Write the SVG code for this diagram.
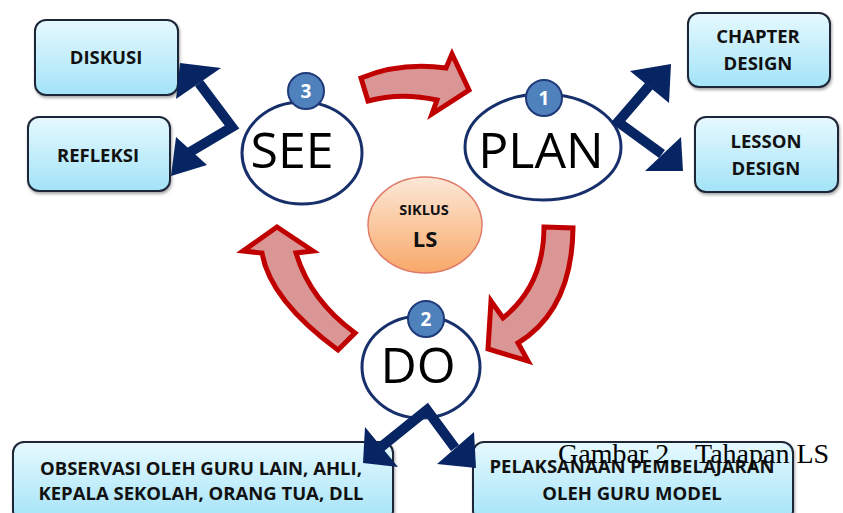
<svg xmlns="http://www.w3.org/2000/svg" width="843" height="513" viewBox="0 0 843 513">
<defs>
<linearGradient id="boxg" x1="0" y1="0" x2="0" y2="1">
<stop offset="0" stop-color="#e6f9fe"/>
<stop offset="1" stop-color="#a3e3f8"/>
</linearGradient>
<linearGradient id="lsg" x1="0" y1="0" x2="0" y2="1">
<stop offset="0" stop-color="#fde8d8"/>
<stop offset="1" stop-color="#f8a868"/>
</linearGradient>
<filter id="sh" x="-10%" y="-10%" width="120%" height="130%">
<feDropShadow dx="1" dy="2" stdDeviation="1.5" flood-color="#000" flood-opacity="0.35"/>
</filter>
</defs>
<style>
.box{fill:url(#boxg);stroke:#1e2838;stroke-width:2;filter:url(#sh)}
.bt{font-family:"Open Sans","Liberation Sans",sans-serif;font-weight:bold;font-size:18.5px;fill:#111;text-anchor:middle}
.ell{fill:#fff;stroke:#172f6b;stroke-width:3}
.big{font-family:"Open Sans","Liberation Sans",sans-serif;font-size:50px;fill:#000;text-anchor:middle}
.badge{fill:#4f81bd;stroke:#1f3a78;stroke-width:2}
.bn{font-family:"Open Sans","Liberation Sans",sans-serif;font-weight:bold;font-size:19px;fill:#fff;text-anchor:middle}
.red{fill:#d99694;stroke:#c00000;stroke-width:5;stroke-linejoin:miter}
.shaft{fill:none;stroke:#082563;stroke-width:10;stroke-linejoin:miter}
.ah{fill:#082563}
</style>

<g id="see">
<ellipse class="ell" cx="302" cy="153" rx="60" ry="51"/>
<text class="big" x="292" y="168">SEE</text>
<circle class="badge" cx="306" cy="91" r="18"/>
<text class="bn" x="306" y="98">3</text>
</g>
<g id="plan">
<ellipse class="ell" cx="543" cy="147" rx="78" ry="53"/>
<text class="big" x="541" y="168">PLAN</text>
<circle class="badge" cx="544" cy="98" r="18"/>
<text class="bn" x="544" y="105">1</text>
</g>
<g id="do">
<ellipse class="ell" cx="421" cy="367" rx="59" ry="51"/>
<text class="big" x="418" y="383">DO</text>
<circle class="badge" cx="426" cy="319" r="18"/>
<text class="bn" x="426" y="326">2</text>
</g>
<g id="siklus">
<ellipse cx="425" cy="225" rx="57" ry="48" fill="url(#lsg)" stroke="#e07a68" stroke-width="1.5"/>
<text class="bt" x="424" y="215" style="font-size:14.5px">SIKLUS</text>
<text class="bt" x="425" y="247" style="font-size:22px">LS</text>
</g>
<g id="diskusi">
<rect class="box" x="35" y="20" width="143" height="75" rx="11"/>
<text class="bt" x="106" y="64">DISKUSI</text>
</g>
<g id="refleksi">
<rect class="box" x="28" y="117" width="142" height="74" rx="11"/>
<text class="bt" x="98" y="162">REFLEKSI</text>
</g>
<g id="chapter">
<rect class="box" x="688" y="13" width="142" height="74" rx="11"/>
<text class="bt" x="758" y="43">CHAPTER</text>
<text class="bt" x="758" y="70">DESIGN</text>
</g>
<g id="lesson">
<rect class="box" x="695" y="117" width="143" height="75" rx="11"/>
<text class="bt" x="766" y="148">LESSON</text>
<text class="bt" x="766" y="175">DESIGN</text>
</g>
<g id="observasi">
<rect class="box" x="13" y="442" width="380" height="80" rx="11"/>
<text class="bt" x="201" y="475">OBSERVASI OLEH GURU LAIN, AHLI,</text>
<text class="bt" x="201" y="500">KEPALA SEKOLAH, ORANG TUA, DLL</text>
</g>
<g id="pelaksanaan">
<rect class="box" x="473" y="442" width="320" height="80" rx="11"/>
<text class="bt" x="632" y="473">PELAKSANAAN PEMBELAJARAN</text>
<text class="bt" x="632" y="500">OLEH GURU MODEL</text>
</g>

<g id="connectors">
<path class="red" d="M361,78 Q400,62 446,68 L452,54 L469,90 L432,114 L437,100 Q400,92 368,101 Z"/>
<path class="red" d="M544,227 L573,228 Q572,310 518,343 L528,361 L488,349 L491,301 L503,318 Q544,285 544,227 Z"/>
<path class="red" d="M277,227 L313,251 L296,253 Q310,300 355,333 L338,350 Q270,300 262,253 L243,251 Z"/>
<polyline class="shaft" points="199,83 232,127 190,152"/>
<polygon class="ah" points="180,63 176,99 221,68"/>
<polygon class="ah" points="171,176 176,137 207,165"/>
<polyline class="shaft" points="649,86 618,122 662,154"/>
<polygon class="ah" points="671,64 630,71 669,103"/>
<polygon class="ah" points="683,171 681,137 645,171"/>
<polyline class="shaft" points="381,447 427,410 455,448"/>
<polygon class="ah" points="363,463 365,427 398,467"/>
<polygon class="ah" points="476,468 474,432 437,464"/>
</g>

<text x="558" y="463" font-family="'Liberation Serif','Times New Roman',serif" font-size="28" fill="#000">Gambar 2. <tspan x="695">Tahapan LS</tspan></text>
</svg>
